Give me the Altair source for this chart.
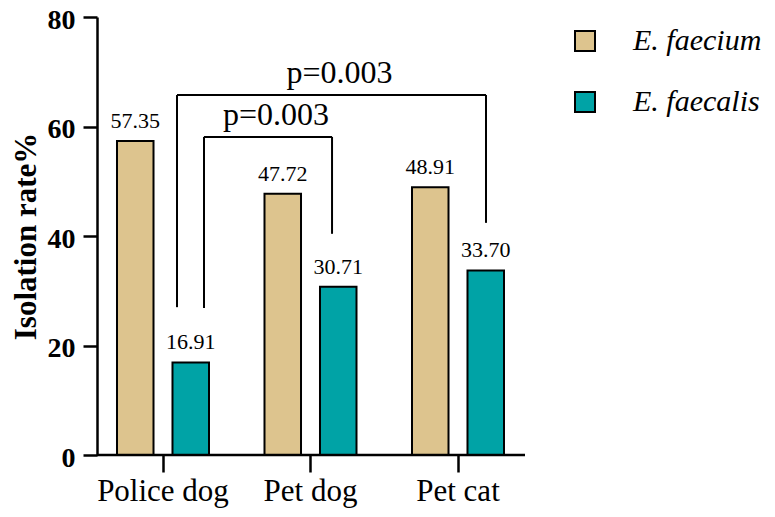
import altair as alt
import pandas as pd

# ---- data ----
categories = ["Police dog", "Pet dog", "Pet cat"]
series = ["E. faecium", "E. faecalis"]
faecium = [57.35, 47.72, 48.91]
faecalis = [16.91, 30.71, 33.70]
colors = ["#DDC48E", "#00A3A6"]

# significance brackets (x in category units: 0 = Police dog, 1 = Pet dog, 2 = Pet cat)
br_left = [0.095, 0.278]
br_right = [2.19, 1.146]
br_top = [65.75, 58.1]
br_left_bottom = [27.0, 26.85]
br_right_bottom = [42.4, 40.4]
br_label = ["p=0.003", "p=0.003"]

# ---- layout ----
W, H = 428, 438
STEP, FIRST = 147.5, 66
FONT = "Liberation Serif"

rows = []
for i, c in enumerate(categories):
    rows.append({"category": c, "series": series[0], "value": faecium[i]})
    rows.append({"category": c, "series": series[1], "value": faecalis[i]})
df = pd.DataFrame(rows)

seg = []
for l, r, t, lb, rb in zip(br_left, br_right, br_top, br_left_bottom, br_right_bottom):
    seg.append({"x": l, "x2": r, "value": t, "value2": t})
    seg.append({"x": l, "x2": l, "value": t, "value2": lb})
    seg.append({"x": r, "x2": r, "value": t, "value2": rb})
seg_df = pd.DataFrame(seg)
lab_df = pd.DataFrame({
    "x": [(l + r) / 2 for l, r in zip(br_left, br_right)],
    "value": br_top,
    "label": br_label,
})

xband = alt.Scale(domain=categories, range=[FIRST - STEP / 2, FIRST + STEP * 2.5],
                  paddingInner=0, paddingOuter=0)
xq = alt.Scale(domain=[-FIRST / STEP, (W - FIRST) / STEP], nice=False, zero=False)
yscale = alt.Scale(domain=[0, 80], nice=False)

yaxis = alt.Axis(values=[0, 20, 40, 60, 80], grid=False, domainColor="black", domainWidth=2.5,
                 tickColor="black", tickWidth=2.5, tickSize=14, labelFont=FONT,
                 labelFontWeight="bold", labelFontSize=28, labelPadding=8, labelColor="black",
                 labelOffset=3,
                 titleFont=FONT, titleFontSize=31, titleFontWeight="bold", titleColor="black",
                 titleX=-62, titleY=H / 2, titleAngle=270, titleBaseline="alphabetic",
                 titleAlign="center")
xaxis = alt.Axis(domain=False, ticks=True, tickSize=17, tickWidth=2.5, tickColor="black",
                 labelFont=FONT, labelFontSize=31, labelPadding=4, labelColor="black",
                 labelAngle=0, title=None, grid=False)

Y = alt.Y("value:Q", scale=yscale, axis=yaxis, title="Isolation rate%")
XO = alt.XOffset("series:N", sort=series,
                 scale=alt.Scale(domain=series, paddingInner=0.342, paddingOuter=0.5))

bars = alt.Chart(df).mark_bar(stroke="black", strokeWidth=2, opacity=1).encode(
    x=alt.X("category:N", scale=xband, sort=categories, axis=xaxis),
    xOffset=XO, y=Y,
    color=alt.Color("series:N", scale=alt.Scale(domain=series, range=colors),
                    legend=alt.Legend(orient="none", legendX=473, legendY=9, title=None,
                                      symbolType="square", symbolSize=400,
                                      symbolStrokeColor="black", symbolStrokeWidth=2,
                                      symbolOpacity=1, labelFont=FONT, labelFontStyle="italic",
                                      labelFontSize=30, labelOffset=33, rowPadding=31,
                                      padding=0, labelColor="black")),
)

values = alt.Chart(df).mark_text(font=FONT, fontSize=22, baseline="alphabetic", dy=-13,
                                 color="black").encode(
    x=alt.X("category:N", scale=xband, sort=categories, axis=None),
    xOffset=XO, y=Y, text=alt.Text("value:Q", format=".2f"))

brackets = alt.Chart(seg_df).mark_rule(color="black", strokeWidth=2).encode(
    x=alt.X("x:Q", scale=xq, axis=None), x2="x2:Q", y=Y, y2="value2:Q")

plabels = alt.Chart(lab_df).mark_text(font=FONT, fontSize=32, baseline="alphabetic",
                                      dy=-12, dx=8, color="black").encode(
    x=alt.X("x:Q", scale=xq, axis=None), y=Y, text="label:N")

baseline = alt.Chart(pd.DataFrame({"value": [0]})).mark_rule(
    color="black", strokeWidth=2.5).encode(x=alt.value(0), x2=alt.value(W), y=Y)

chart = alt.layer(bars, values, brackets, plabels, baseline).resolve_scale(
    x="independent"
).properties(
    width=W, height=H,
    padding={"left": 89, "top": 9, "right": 242, "bottom": 54},
    autosize=alt.AutoSizeParams(type="none"),
).configure_view(stroke=None)

chart.save("out.html", embed_options={"renderer": "svg", "actions": False})
